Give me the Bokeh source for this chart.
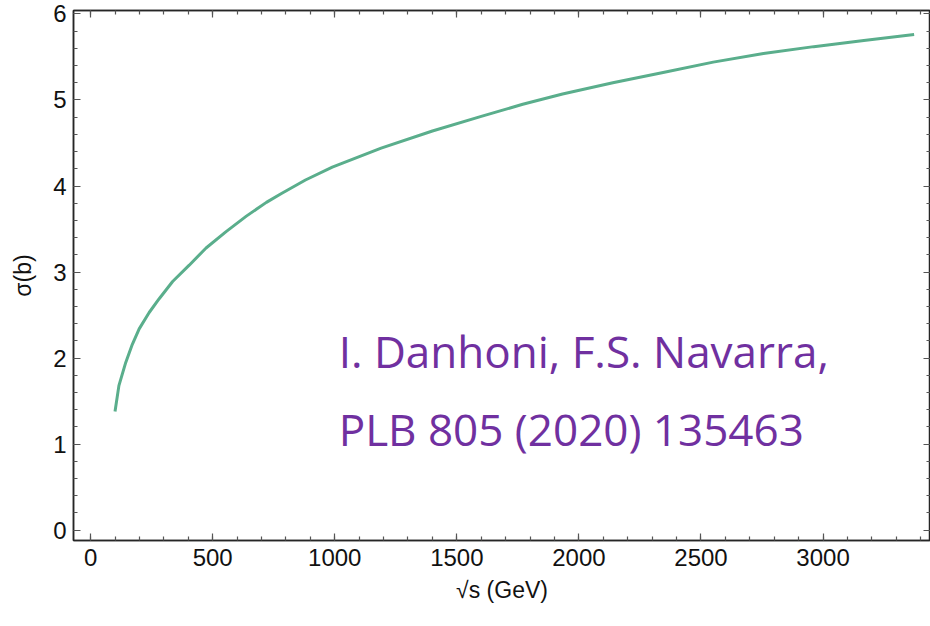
from bokeh.plotting import figure
from bokeh.models import LinearAxis, Range1d, FixedTicker, Label
from bokeh.embed import file_html
from bokeh.resources import INLINE

# data
sqrt_s = [100, 116, 144, 171, 199, 240, 281, 336, 404, 473, 555, 638, 720, 780,
          880, 990, 1190, 1400, 1600, 1770, 1933, 2139, 2345, 2550, 2756, 2962,
          3167, 3373]
sigma = [1.38, 1.68, 1.95, 2.16, 2.34, 2.53, 2.69, 2.89, 3.08, 3.28, 3.47, 3.65,
         3.81, 3.91, 4.07, 4.22, 4.44, 4.64, 4.81, 4.95, 5.07, 5.20, 5.32, 5.44,
         5.54, 5.62, 5.69, 5.76]

x_ticks = [0, 500, 1000, 1500, 2000, 2500, 3000]
y_ticks = [0, 1, 2, 3, 4, 5, 6]
x_minor = [i * 100 for i in range(0, 35)]
y_minor = [i * 0.2 for i in range(0, 31)]

annot_lines = ["I. Danhoni, F.S. Navarra,", "PLB 805 (2020) 135463"]

FRAME = "#262626"
TICK = "#555555"
FONT = "Liberation Sans"

p = figure(width=930, height=626, output_backend="svg", toolbar_location=None,
           x_range=Range1d(-70, 3440), y_range=Range1d(-0.12, 6.04),
           min_border_left=73, min_border_right=0, min_border_top=10,
           min_border_bottom=86, x_axis_label="√s (GeV)", y_axis_label="σ(b)")
p.grid.visible = False
p.outline_line_color = FRAME
p.outline_line_width = 1.5
p.background_fill_color = "white"
p.border_fill_color = "white"

def style(ax, ticks, minor, labels=True):
    ax.ticker = FixedTicker(ticks=ticks, minor_ticks=minor)
    ax.axis_line_color = FRAME
    ax.axis_line_width = 1.5
    ax.major_tick_in = 7
    ax.major_tick_out = 0
    ax.minor_tick_in = 4
    ax.minor_tick_out = 0
    ax.major_tick_line_color = TICK
    ax.minor_tick_line_color = TICK
    ax.major_tick_line_width = 1.2
    ax.minor_tick_line_width = 1.2
    if labels:
        ax.major_label_text_font = FONT
        ax.major_label_text_font_size = "24px"
        ax.major_label_text_color = "#111111"
        ax.axis_label_text_font = FONT
        ax.axis_label_text_font_size = "23px"
        ax.axis_label_text_font_style = "normal"
        ax.axis_label_text_color = "#111111"
    else:
        ax.major_label_text_font_size = "1px"
        ax.major_label_text_color = None
        ax.major_label_standoff = 0
        ax.axis_label_standoff = 0

style(p.xaxis[0], x_ticks, x_minor)
style(p.yaxis[0], y_ticks, y_minor)
p.xaxis[0].major_label_standoff = 8
p.yaxis[0].major_label_standoff = 7
p.xaxis[0].axis_label_standoff = 8
p.yaxis[0].axis_label_standoff = 14

top = LinearAxis()
style(top, x_ticks, x_minor, labels=False)
p.add_layout(top, "above")
right = LinearAxis()
style(right, y_ticks, y_minor, labels=False)
p.add_layout(right, "right")

p.line(sqrt_s, sigma, line_color="#5aae8c", line_width=3)

for txt, yb in zip(annot_lines, [2.08, 1.18]):
    p.add_layout(Label(x=1016, y=yb, text=txt, text_font="Open Sans",
                       text_font_size="44px", text_color="#7030a0",
                       text_baseline="alphabetic", text_align="left"))

open("out.html", "w").write(file_html(p, INLINE))
